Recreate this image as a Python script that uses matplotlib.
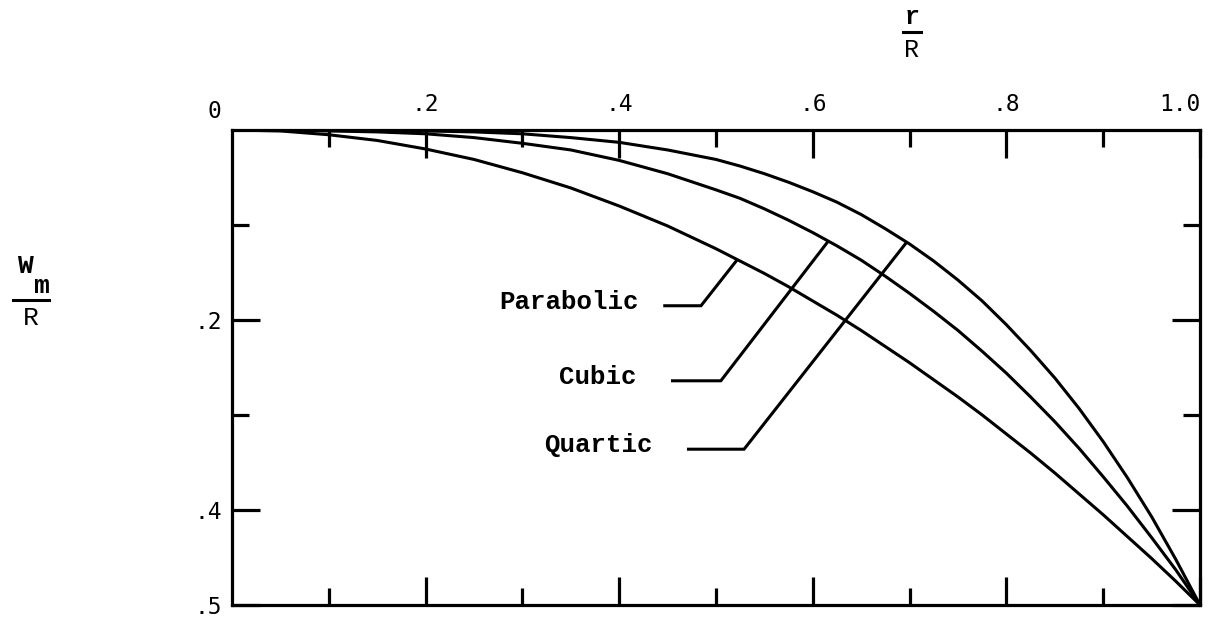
import numpy as np
import matplotlib
matplotlib.use("Agg")
import matplotlib.pyplot as plt
from matplotlib.lines import Line2D

# Radial position r/R and deflection W_m/R for three assumed profiles
r_over_R = [0.00, 0.05, 0.10, 0.15, 0.20, 0.25, 0.30, 0.35, 0.40, 0.45, 0.50,
            0.525, 0.55, 0.575, 0.60, 0.625, 0.65, 0.675, 0.70, 0.725, 0.75,
            0.775, 0.80, 0.825, 0.85, 0.875, 0.90, 0.925, 0.95, 0.975, 1.00]
parabolic = [0.000, 0.001, 0.005, 0.011, 0.020, 0.031, 0.045, 0.061, 0.080, 0.101, 0.125,
             0.138, 0.151, 0.165, 0.180, 0.195, 0.211, 0.228, 0.245, 0.263, 0.281,
             0.300, 0.320, 0.340, 0.361, 0.383, 0.405, 0.428, 0.451, 0.475, 0.500]
cubic = [0.000, 0.000, 0.001, 0.002, 0.004, 0.008, 0.014, 0.021, 0.032, 0.046, 0.063,
         0.072, 0.083, 0.095, 0.108, 0.122, 0.137, 0.154, 0.172, 0.191, 0.211,
         0.233, 0.256, 0.281, 0.307, 0.335, 0.365, 0.396, 0.429, 0.463, 0.500]
quartic = [0.000, 0.000, 0.000, 0.000, 0.001, 0.002, 0.004, 0.008, 0.013, 0.021, 0.031,
           0.038, 0.046, 0.055, 0.065, 0.076, 0.089, 0.104, 0.120, 0.138, 0.158,
           0.180, 0.205, 0.232, 0.261, 0.293, 0.328, 0.366, 0.407, 0.452, 0.500]

x_major = [0.2, 0.4, 0.6, 0.8, 1.0]
x_major_labels = [".2", ".4", ".6", ".8", "1.0"]
x_minor = [0.1, 0.3, 0.5, 0.7, 0.9]
y_major = [0.2, 0.4, 0.5]
y_major_labels = [".2", ".4", ".5"]
y_minor = [0.1, 0.3]

W, H, DPI = 1217, 621, 100
MONO = ["Liberation Mono", "DejaVu Sans Mono"]
TICKFONT = ["DejaVu Sans Mono"]

fig = plt.figure(figsize=(W / DPI, H / DPI), dpi=DPI)
fig.patch.set_facecolor("white")


def fx(px):
    return px / W


def fy(py):
    return 1 - py / H


left, right, top, bottom = 232, 1200, 130, 605
ax = fig.add_axes([fx(left), fy(bottom), fx(right) - fx(left), fy(top) - fy(bottom)])
ax.set_xlim(0, 1.0)
ax.set_ylim(0.5, 0)

lw_curve = 2.2
for series in (parabolic, cubic, quartic):
    ax.plot(r_over_R, series, color="black", lw=lw_curve,
            solid_capstyle="round", solid_joinstyle="round")

# Leader lines from each label to its curve
leaders = [
    ("Parabolic", parabolic, (0.348, 0.181), (0.4455, 0.4845), 0.522),
    ("Cubic", cubic, (0.378, 0.260), (0.4535, 0.505), 0.616),
    ("Quartic", quartic, (0.379, 0.332), (0.470, 0.529), 0.697),
]
for name, series, (tx, ty), (lx0, lx1), r_hit in leaders:
    y_hit = float(np.interp(r_hit, r_over_R, series))
    ly = ty + 0.004
    ax.plot([lx0, lx1, r_hit], [ly, ly, y_hit], color="black", lw=lw_curve,
            solid_capstyle="butt", solid_joinstyle="miter")
    ax.text(tx, ty, name, ha="center", va="center", fontsize=18.5,
            family=MONO, fontweight="bold", color="black")

for s in ax.spines.values():
    s.set_linewidth(2.3)
    s.set_color("black")

ax.set_xticks(x_major)
ax.set_xticklabels(x_major_labels)
ax.set_xticks(x_minor, minor=True)
ax.set_yticks(y_major)
ax.set_yticklabels(y_major_labels)
ax.set_yticks(y_minor, minor=True)

ax.tick_params(which="both", direction="in", top=True, bottom=True, left=True, right=True,
               labeltop=True, labelbottom=False, labelleft=True, labelright=False,
               width=2.3, color="black")
ax.tick_params(which="major", length=20)
ax.tick_params(which="minor", length=12)
ax.tick_params(axis="x", which="major", pad=10, labelsize=16.5)
ax.tick_params(axis="y", which="major", pad=7, labelsize=16.5)

for lab in ax.get_xticklabels() + ax.get_yticklabels():
    lab.set_family(TICKFONT)
ax.get_xticklabels()[-1].set_ha("right")

# Shared origin label at the corner
ax.text(-0.018, -0.019, "0", transform=ax.transData, family=TICKFONT, fontsize=16.5,
        ha="center", va="center")


# Axis titles written as stacked fractions
def fraction(cx, bar_y, top_parts, bottom_text, bar_half, size):
    for txt, dx, dy in top_parts:
        fig.text(fx(cx + dx), fy(bar_y - dy), txt, family=MONO, fontsize=size,
                 fontweight="bold", ha="center", va="baseline")
    fig.text(fx(cx), fy(bar_y + 25), bottom_text, family=MONO, fontsize=size,
             ha="center", va="baseline")
    fig.add_artist(Line2D([fx(cx - bar_half), fx(cx + bar_half)], [fy(bar_y), fy(bar_y)],
                          transform=fig.transFigure, color="black", lw=2.2))


fraction(912, 32, [("r", 0, 8)], "R", 9, 18)
fraction(31, 300, [("W", -6, 27), ("m", 10, 7)], "R", 18, 19)

fig.savefig("out.png", dpi=DPI, facecolor="white")
